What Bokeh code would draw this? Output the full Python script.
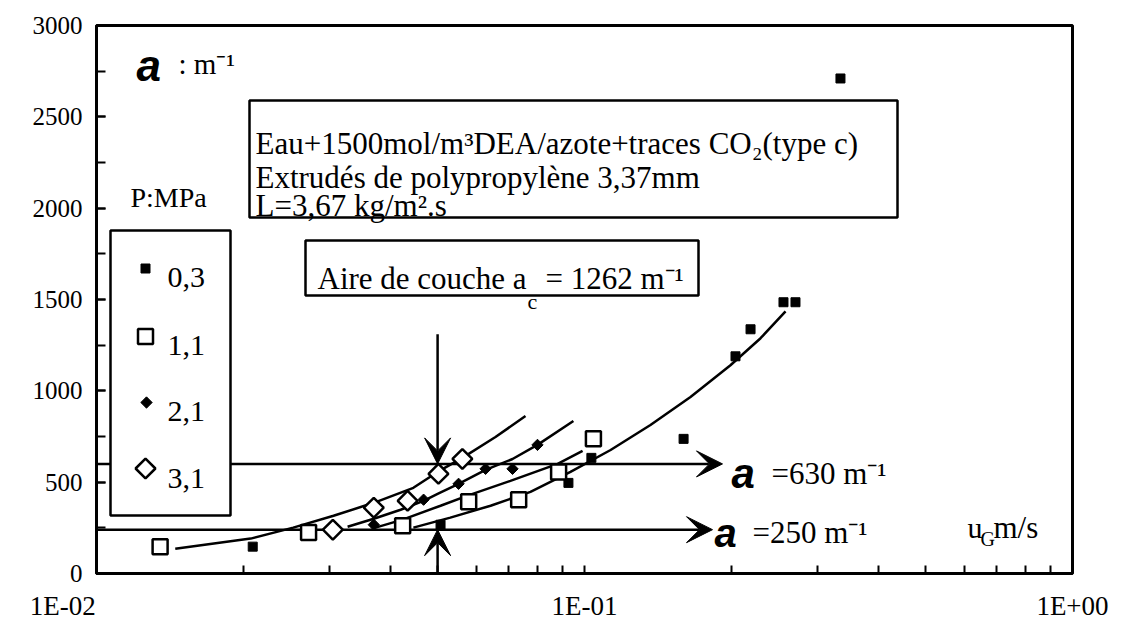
from bokeh.plotting import figure
from bokeh.models import Label, Arrow, VeeHead, FixedTicker, SingleIntervalTicker, CustomJSTickFormatter
from bokeh.embed import file_html
from bokeh.resources import INLINE

# ---------------- data ----------------
# P = 0.3 MPa (filled squares)
u_03 = [0.0209, 0.0507, 0.0927, 0.1033, 0.1596, 0.2039, 0.2189, 0.2557, 0.2706, 0.3346]
a_03 = [147, 267, 496, 633, 737, 1189, 1337, 1485, 1485, 2710]
# P = 1.1 MPa (open squares)
u_11 = [0.0135, 0.0272, 0.0424, 0.0579, 0.0733, 0.0885, 0.1043]
a_11 = [147, 224, 262, 393, 404, 556, 737]
# P = 2.1 MPa (small filled diamonds)
u_21 = [0.0370, 0.0468, 0.0552, 0.0627, 0.0712, 0.0801]
a_21 = [267, 404, 491, 573, 573, 704]
# P = 3.1 MPa (open diamonds)
u_31 = [0.0305, 0.0370, 0.0434, 0.0502, 0.0562]
a_31 = [240, 360, 398, 546, 627]

# drawn trend curves
fit_03_u = [0.0446, 0.0531, 0.0642, 0.0775, 0.0936, 0.1131, 0.1365, 0.1649, 0.1991, 0.2295, 0.2582]
fit_03_a = [251, 306, 371, 447, 556, 676, 813, 966, 1140, 1288, 1435]
fit_11_u = [0.0373, 0.0424, 0.0507, 0.0576, 0.0705, 0.0881, 0.0991]
fit_11_a = [251, 295, 371, 426, 507, 600, 671]
fit_21_u = [0.0327, 0.0370, 0.0420, 0.0468, 0.0500, 0.0552, 0.0627, 0.0712, 0.0801, 0.0949]
fit_21_a = [256, 300, 349, 398, 436, 491, 567, 627, 704, 835]
fit_31_u = [0.0145, 0.0207, 0.0253, 0.0306, 0.0370, 0.0446, 0.0500, 0.0562, 0.0657, 0.0757]
fit_31_a = [136, 191, 251, 316, 387, 469, 556, 633, 747, 862]

# reference levels
a_high = 600      # arrow labelled a = 630 m-1
a_low = 240       # arrow labelled a = 250 m-1
u_ref = 0.05      # vertical arrows
a_top_arrow = 1310

x_ticks = [0.01, 0.1, 1.0]
x_tick_labels = ["1E-02", "1E-01", "1E+00"]
legend_labels = ["0,3", "1,1", "2,1", "3,1"]

# ---------------- figure ----------------
W, H = 1120, 634
FL, FT, FR, FB = 96, 25, 1072, 573   # frame in page pixels
p = figure(width=W, height=H, x_axis_type="log", x_range=(0.01, 1), y_range=(0, 3000),
           output_backend="svg", toolbar_location=None,
           min_border_left=FL, min_border_right=W - FR,
           min_border_top=FT, min_border_bottom=H - FB)
p.background_fill_color = "white"
p.border_fill_color = "white"
p.xgrid.visible = False
p.ygrid.visible = False
p.outline_line_color = "black"
p.outline_line_width = 3

SERIF = "Liberation Serif"

def X(px):
    return 10 ** (-2 + 2 * (px - FL) / (FR - FL))

def Y(py):
    return 3000 * (FB - py) / (FB - FT)

# axes
p.yaxis.ticker = SingleIntervalTicker(interval=500, num_minor_ticks=2)
p.yaxis.major_tick_in = 9
p.yaxis.major_tick_out = 0
p.yaxis.minor_tick_in = 9
p.yaxis.minor_tick_out = 0
p.yaxis.axis_line_width = 3
p.yaxis.major_tick_line_width = 2
p.yaxis.minor_tick_line_width = 2
p.yaxis.major_label_text_font = SERIF
p.yaxis.major_label_text_font_size = "25px"
p.yaxis.major_label_text_color = "black"
p.yaxis.major_label_standoff = 14

minor = [k * d for d in (0.01, 0.1) for k in range(2, 10)]
p.xaxis.ticker = FixedTicker(ticks=x_ticks, minor_ticks=minor)
p.xaxis.formatter = CustomJSTickFormatter(
    args=dict(labels=x_tick_labels),
    code="""
    const pad = '\\u00a0'.repeat(10);
    if (tick < 0.05) return labels[0] + pad;
    if (tick < 0.5) return labels[1];
    return labels[2];
    """)
p.xaxis.major_tick_in = 8
p.xaxis.major_tick_out = 0
p.xaxis.minor_tick_in = 8
p.xaxis.minor_tick_out = 0
p.xaxis.major_tick_line_width = 2
p.xaxis.minor_tick_line_width = 2
p.xaxis.axis_line_width = 3
p.xaxis.major_label_text_font = SERIF
p.xaxis.major_label_text_font_size = "27px"
p.xaxis.major_label_text_color = "black"
p.xaxis.major_label_standoff = 17

# ---------------- reference arrows (under everything) ----------------
def arrow(x0, y0, x1, y1):
    p.add_layout(Arrow(x_start=x0, y_start=y0, x_end=x1, y_end=y1,
                       end=VeeHead(size=26, fill_color="black", line_color="black", line_width=1),
                       line_width=2.5, line_color="black", level="underlay"))

arrow(0.01, a_high, X(722), a_high)
arrow(0.01, a_low, X(712), a_low)
arrow(u_ref, a_top_arrow, u_ref, a_high)
arrow(u_ref, 0, u_ref, a_low)

# ---------------- curves and points ----------------
for cu, ca in [(fit_03_u, fit_03_a), (fit_11_u, fit_11_a), (fit_21_u, fit_21_a), (fit_31_u, fit_31_a)]:
    p.line(cu, ca, line_color="black", line_width=2.5)

p.scatter(u_03, a_03, marker="square", size=9, fill_color="black", line_color="black")
p.scatter(u_11, a_11, marker="square", size=15, fill_color="white", line_color="black", line_width=2.5)
p.scatter(u_21, a_21, marker="square", size=8, angle=0.785398, fill_color="black", line_color="black")
p.scatter(u_31, a_31, marker="square", size=14, angle=0.785398, fill_color="white", line_color="black", line_width=2.5)

# ---------------- boxes ----------------
def box(l, r, t, b):
    p.quad(left=[X(l)], right=[X(r)], top=[Y(t)], bottom=[Y(b)],
           fill_color="white", line_color="black", line_width=2.5)

box(110, 230, 230, 515)     # legend
box(249, 897, 100, 217)     # conditions
box(305, 698, 240, 295)     # bed area

# legend markers
p.scatter([X(145)], [Y(268)], marker="square", size=9, fill_color="black", line_color="black")
p.scatter([X(145)], [Y(336)], marker="square", size=15, fill_color="white", line_color="black", line_width=2.5)
p.scatter([X(146)], [Y(402)], marker="square", size=8, angle=0.785398, fill_color="black", line_color="black")
p.scatter([X(145)], [Y(468)], marker="square", size=14, angle=0.785398, fill_color="white", line_color="black", line_width=2.5)

# ---------------- texts ----------------
def lab(text, px, py, size, font=SERIF, style="normal", align="left"):
    p.add_layout(Label(x=X(px), y=Y(py), text=text, text_font=font,
                       text_font_size=f"{size}px", text_font_style=style,
                       text_align=align, text_baseline="alphabetic", text_color="black"))

lab("a", 136, 65, 44, font="Liberation Sans", style="bold italic")
lab(": m⁻¹", 178, 63, 29)
lab("P:MPa", 130, 197, 28)
for t, py in zip(legend_labels, [277, 345, 411, 478]):
    lab(t, 167, py, 30)

lab("Eau+1500mol/m³DEA/azote+traces CO₂(type c)", 255, 143, 31)
lab("Extrudés de polypropylène 3,37mm", 255, 177, 31)
lab("L=3,67 kg/m².s", 255, 205, 31)

lab("Aire de couche a", 317, 278, 31)
lab("c", 527, 301, 22)
lab("= 1262 m⁻¹", 545, 278, 31)

lab("a", 731, 473, 42, font="Liberation Sans", style="bold italic")
lab("=630 m⁻¹", 771, 473, 31)
lab("a", 714, 532, 40, font="Liberation Sans", style="bold italic")
lab("=250 m⁻¹", 752, 532, 31)

lab("u", 967, 527, 30)
lab("G", 980, 538, 20)
lab("m/s", 993, 527, 31)

open("out.html", "w").write(file_html(p, INLINE))
